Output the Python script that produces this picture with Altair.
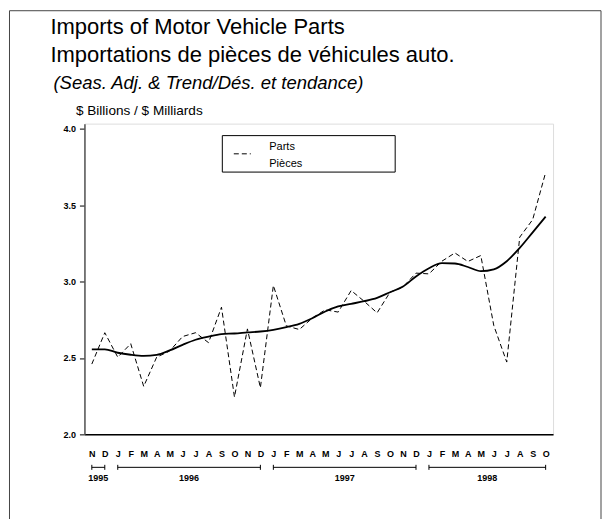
import altair as alt
import pandas as pd

# ---------------- data ----------------
months = (["1995-11", "1995-12"]
          + [f"1996-{m:02d}" for m in range(1, 13)]
          + [f"1997-{m:02d}" for m in range(1, 13)]
          + [f"1998-{m:02d}" for m in range(1, 11)])
month_letters = ["N", "D"] + list("JFMAMJJASOND") * 2 + list("JFMAMJJASO")

seas_adj = [2.46, 2.665, 2.505, 2.593, 2.314, 2.505, 2.545, 2.64, 2.665, 2.60,
            2.832, 2.244, 2.69, 2.305, 2.974, 2.71, 2.686, 2.76, 2.815, 2.80,
            2.941, 2.871, 2.795, 2.93, 2.965, 3.055, 3.05, 3.133, 3.187, 3.131,
            3.17, 2.712, 2.473, 3.29, 3.405, 3.714]
trend = [2.556, 2.556, 2.534, 2.521, 2.514, 2.52, 2.549, 2.586, 2.619, 2.64,
         2.656, 2.66, 2.667, 2.673, 2.684, 2.701, 2.723, 2.76, 2.804, 2.837,
         2.854, 2.871, 2.893, 2.93, 2.967, 3.033, 3.087, 3.12, 3.118, 3.095,
         3.068, 3.08, 3.133, 3.22, 3.322, 3.425]

years = ["1995", "1996", "1997", "1998"]
y_ticks = [2.0, 2.5, 3.0, 3.5, 4.0]

title_line1 = "Imports of Motor Vehicle Parts"
title_line2 = "Importations de pièces de véhicules auto."
subtitle = "(Seas. Adj. & Trend/Dés. et tendance)"
y_title = "$ Billions / $ Milliards"
legend_lines = ["Parts", "Pièces"]

# ---------------- tables ----------------
df = pd.DataFrame({"idx": list(range(len(months))), "month": months,
                   "seas_adj": seas_adj, "trend": trend})
starts = [min(i for i, m in enumerate(months) if m.startswith(y)) for y in years]
ends = [max(i for i, m in enumerate(months) if m.startswith(y)) for y in years]
yr_df = pd.DataFrame({"year": years, "start": starts, "end": ends})

FONT = "Liberation Sans"

xscale = alt.Scale(domain=[-0.57, len(months) - 1 + 0.57], nice=False, zero=False)
letters_js = "[" + ",".join(f"'{c}'" for c in month_letters) + "]"
xaxis = alt.Axis(values=list(range(len(months))), labelExpr=f"{letters_js}[datum.value]",
                 title=None, grid=False, ticks=False, tickSize=0, labelPadding=15,
                 labelFontWeight="bold", labelFontSize=9, labelFont=FONT,
                 labelBaseline="top", labelAlign="center", labelOverlap=False,
                 labelFlush=False, domainColor="black", domainWidth=1.5)

yscale = alt.Scale(domain=[2.0, 4.033], nice=False, zero=False)
yaxis = alt.Axis(values=y_ticks, format=".1f", grid=False, tickSize=5,
                 tickColor="black", labelFontWeight="bold", labelFontSize=9,
                 labelFont=FONT, labelPadding=4, title=y_title, titleAngle=0,
                 titleAlign="left", titleBaseline="alphabetic", titleX=-9, titleY=-9,
                 titleFontWeight="normal", titleFontSize=13.6, titleFont=FONT,
                 domainColor="#555", domainWidth=1.5)


def X(field):
    return alt.X(field, type="quantitative", scale=xscale, axis=xaxis)


def Y(field):
    return alt.Y(field, type="quantitative", scale=yscale, axis=yaxis)


legend_label_expr = "['" + legend_lines[0] + "', '" + legend_lines[1] + "']"

base = alt.Chart(df)

dashed = base.transform_calculate(series="'Parts'").mark_line(
    color="black", strokeWidth=1).encode(
    x=X("idx"), y=Y("seas_adj"),
    strokeDash=alt.StrokeDash(
        "series:N",
        scale=alt.Scale(domain=["Parts"], range=[[5, 3]]),
        legend=alt.Legend(title=None, orient="none", legendX=138, legendY=10,
                          padding=4, symbolType="M-1,0.85L1,0.85",
                          symbolStrokeColor="black", symbolFillColor="transparent",
                          symbolStrokeWidth=1, symbolSize=289, symbolDash=[4, 2],
                          symbolOffset=7, labelOffset=18, labelExpr=legend_label_expr,
                          labelFontSize=11, labelFont=FONT, labelBaseline="middle",
                          labelLimit=400, labelColor="black")))

solid = base.mark_line(color="black", strokeWidth=1.8, interpolate="monotone").encode(
    x=X("idx"), y=Y("trend"))

yr = alt.Chart(yr_df)
yr_rule = yr.mark_rule(color="black", strokeWidth=1).encode(
    x=X("start"), x2=alt.X2("end"), y=alt.value(344))
yr_ends = yr.transform_fold(["start", "end"], as_=["k", "pos"]).mark_rule(
    color="black", strokeWidth=1).encode(
    x=X("pos"), y=alt.value(341.5), y2=alt.value(346.5))
yr_text = yr.transform_calculate(mid="(datum.start + datum.end) / 2").mark_text(
    baseline="middle", align="center", fontWeight="bold", fontSize=9, font=FONT,
    color="black").encode(x=X("mid"), y=alt.value(355), text="year:N")

one = pd.DataFrame({"f": [0]})
frame = alt.Chart(one).mark_rect(
    fill="white", fillOpacity=0, stroke="#444", strokeWidth=1).encode(
    x=alt.value(-75), x2=alt.value(517), y=alt.value(-113), y2=alt.value(420))
legend_box = alt.Chart(one).mark_rect(
    fill="white", fillOpacity=0, stroke="black", strokeWidth=1).encode(
    x=alt.value(138), x2=alt.value(311), y=alt.value(12), y2=alt.value(48.5))


def text_layer(txt, x, y, size, style="normal"):
    return alt.Chart(pd.DataFrame({"t": [txt]})).mark_text(
        align="left", baseline="alphabetic", fontSize=size, font=FONT,
        fontStyle=style, color="black").encode(
        x=alt.value(x), y=alt.value(y), text="t:N")


t1 = text_layer(title_line1, -34, -89.7, 22)
t2 = text_layer(title_line2, -34, -61.5, 22)
t3 = text_layer(subtitle, -31, -34.7, 18.5, "italic")

chart = alt.layer(frame, legend_box, solid, dashed, yr_rule, yr_ends, yr_text,
                  t1, t2, t3).properties(
    width=469, height=311,
    padding={"left": 0.5, "top": 1.5, "right": 0, "bottom": 0},
    background="white"
).configure_view(stroke="black", strokeWidth=1).configure_axis(
    labelColor="black"
).configure(style={"guide-label": {"lineHeight": 17}})

chart.save("out.html", embed_options={"renderer": "svg", "actions": False})
